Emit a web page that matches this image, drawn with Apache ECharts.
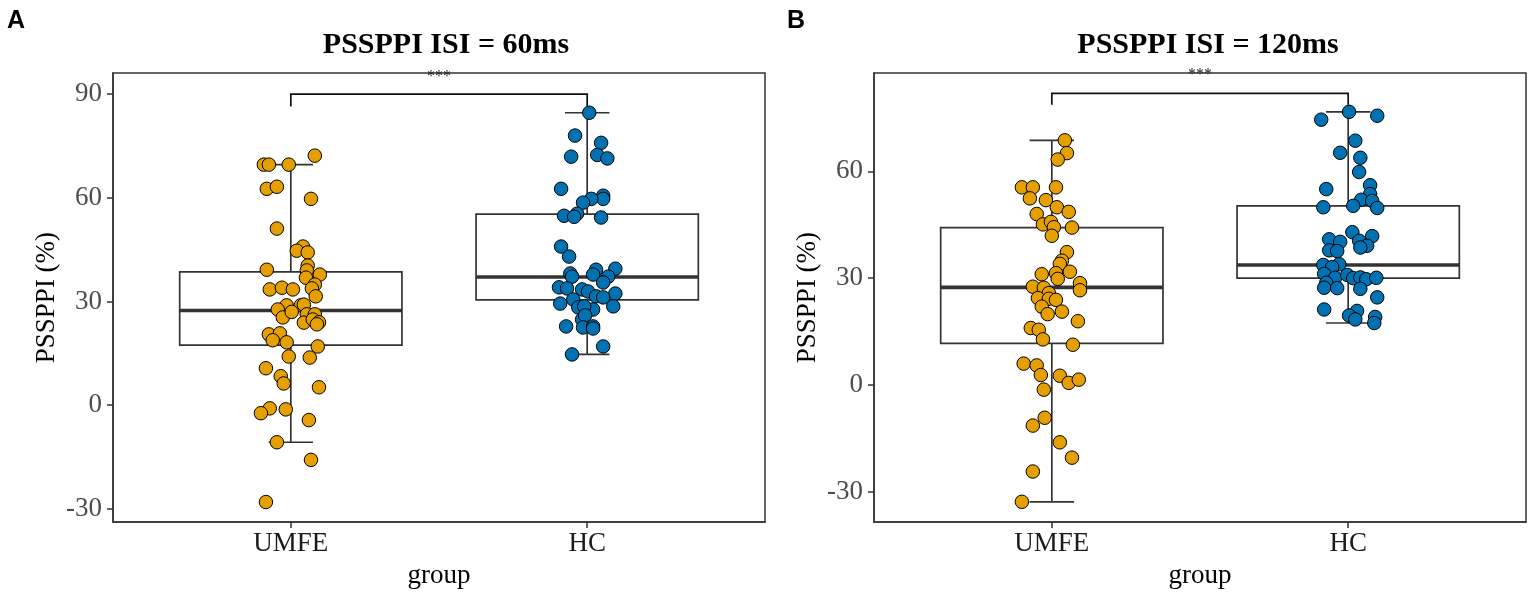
<!DOCTYPE html>
<html><head><meta charset="utf-8">
<script src="https://cdn.jsdelivr.net/npm/echarts@6/dist/echarts.min.js"></script>
<style>html,body{margin:0;padding:0;background:#fff}#c{width:1535px;height:594px}</style>
</head><body><div id="c"></div><script>
// ---------- data ----------
const categories = ['UMFE', 'HC'];
const panelTitles = ['PSSPPI ISI = 60ms', 'PSSPPI ISI = 120ms'];
const panelLabels = ['A', 'B'];
const yTicksA = [-30, 0, 30, 60, 90];
const yTicksB = [-30, 0, 30, 60];
const yRangeA = [-33.8, 96.1];
const yRangeB = [-38.5, 87.6];
const sigLabel = '***';

// Panel A (ISI = 60ms)
const umfeA = [72.2,69.6,69.6,69.6,62.6,63.2,59.7,51.1,45.9,44.7,44.2,40.4,39.0,39.2,37.8,36.9,34.9,33.8,33.5,34.0,33.5,31.5,28.9,27.7,28.9,29.1,25.4,26.3,26.3,23.9,24.8,24.0,23.4,20.5,20.8,18.8,18.2,17.0,14.1,13.8,10.7,8.4,6.3,5.2,-0.9,-2.3,-1.2,-4.3,-10.7,-15.8,-28.0,27.0];
const umfeAJitter = [0.081,-0.091,-0.074,-0.007,-0.081,-0.047,0.068,-0.047,0.041,0.020,0.057,0.057,0.054,-0.081,0.098,0.051,0.081,0.071,-0.071,-0.030,0.007,0.084,-0.014,-0.044,0.034,0.044,-0.027,0.054,0.081,0.044,0.074,0.095,0.088,-0.074,-0.037,-0.061,-0.014,0.091,-0.007,0.064,-0.084,-0.034,-0.024,0.095,-0.071,-0.101,-0.017,0.061,-0.047,0.068,-0.084,0.003];
const hcA = [84.6,78.0,75.9,71.9,72.4,71.4,62.6,60.6,59.7,59.7,58.6,55.4,54.8,54.5,54.3,45.9,43.0,38.1,37.2,39.2,37.8,39.5,37.2,35.5,34.1,33.8,33.5,32.9,32.3,31.5,31.2,30.6,29.4,28.3,27.7,28.6,28.6,24.8,26.0,22.8,22.5,22.8,22.2,17.0,14.7];
const hcAJitter = [0.007,-0.041,0.047,-0.054,0.034,0.068,-0.088,0.054,0.054,0.014,-0.014,-0.034,-0.078,-0.044,0.047,-0.088,-0.061,-0.057,-0.051,0.030,0.020,0.095,0.071,0.054,-0.095,-0.068,-0.017,0.003,0.095,0.030,0.054,-0.047,-0.091,-0.030,0.020,0.088,-0.010,-0.017,-0.007,-0.071,-0.014,0.020,0.020,0.054,-0.051];
// box stats: [lower whisker, Q1, median, Q3, upper whisker]
const boxUmfeA = [-10.7, 17.4, 27.4, 38.6, 69.6];
const boxHcA = [14.7, 30.5, 37.1, 55.3, 84.6];
// bracket: [top, drop end, label y]
const bracketA = [90.0, 86.4, 94.9];

// Panel B (ISI = 120ms)
const umfeB = [68.7,65.1,63.3,55.5,55.5,55.5,52.4,51.9,49.9,48.6,48.0,45.1,45.8,44.3,44.2,41.9,37.3,34.9,34.0,31.1,31.4,29.8,31.8,28.6,26.6,27.6,27.3,25.8,24.4,24.2,23.9,22.0,20.6,19.9,17.9,16.0,15.5,12.8,11.3,6.0,5.5,2.8,2.6,0.6,1.5,-1.3,-9.2,-11.4,-16.1,-20.4,-24.3,-32.8];
const umfeBJitter = [0.044,0.051,0.020,-0.101,-0.064,0.014,-0.074,-0.020,0.017,0.057,-0.051,-0.030,-0.003,0.007,0.068,0.000,0.051,0.034,0.027,-0.034,0.014,0.020,0.061,0.095,0.095,-0.064,-0.027,-0.010,-0.047,-0.010,0.014,-0.034,0.034,-0.014,0.088,-0.071,-0.044,-0.030,0.071,-0.095,-0.051,-0.037,0.027,0.057,0.091,-0.027,-0.024,-0.064,0.027,0.068,-0.064,-0.101];
const hcB = [76.7,74.5,75.6,68.6,65.2,63.8,59.8,56.1,55.0,53.6,52.0,51.7,50.3,49.9,49.7,42.9,41.8,40.9,40.2,40.5,39.1,38.6,37.8,37.6,33.7,33.9,33.1,31.2,30.1,30.9,30.0,30.2,29.7,30.1,28.7,27.3,27.2,27.0,24.6,21.2,20.8,19.5,18.4,19.1,17.4];
const hcBJitter = [0.003,-0.091,0.098,0.024,-0.027,0.041,0.037,0.074,-0.074,0.074,0.044,0.081,0.017,-0.084,0.098,0.014,0.081,-0.064,-0.027,0.037,0.064,0.041,-0.064,-0.037,-0.084,-0.030,-0.054,-0.081,-0.044,-0.003,0.017,0.041,0.061,0.095,-0.074,-0.081,-0.037,0.041,0.098,-0.081,0.030,0.003,0.024,0.091,0.088];
const boxUmfeB = [-32.8, 11.7, 27.4, 44.2, 68.7];
const boxHcB = [17.4, 30.0, 33.7, 50.3, 76.7];
const bracketB = [81.9, 78.7, 87.1];

// ---------- chart ----------
const ORANGE = '#E69F00', BLUE = '#0072B2', INK = '#333333';
const SERIF = 'Liberation Serif';

function renderBox(params, api) {
  const x = api.value(0);
  const lo = api.value(1), q1 = api.value(2), med = api.value(3), q3 = api.value(4), hi = api.value(5);
  const bw = 0.375, cw = 0.075;
  const c = (a, b) => api.coord([a, b]);
  const ls = { stroke: INK, lineWidth: 1.7, fill: null };
  const ln = (p1, p2, st) => ({ type: 'line', shape: { x1: p1[0], y1: p1[1], x2: p2[0], y2: p2[1] }, style: st || ls });
  const tl = c(x - bw, q3), br = c(x + bw, q1);
  return { type: 'group', children: [
    ln(c(x, q3), c(x, hi)),
    ln(c(x, q1), c(x, lo)),
    ln(c(x - cw, hi), c(x + cw, hi)),
    ln(c(x - cw, lo), c(x + cw, lo)),
    { type: 'rect', shape: { x: tl[0], y: tl[1], width: br[0] - tl[0], height: br[1] - tl[1] },
      style: { fill: 'rgba(255,255,255,0)', stroke: INK, lineWidth: 1.7 } },
    ln(c(x - bw, med), c(x + bw, med), { stroke: INK, lineWidth: 3.6 })
  ]};
}

function renderBracket(params, api) {
  const x1 = api.value(0), x2 = api.value(1), top = api.value(2), drop = api.value(3), ly = api.value(4);
  const c = (a, b) => api.coord([a, b]);
  const tp = c((x1 + x2) / 2, ly);
  return { type: 'group', children: [
    { type: 'polyline', shape: { points: [c(x1, drop), c(x1, top), c(x2, top), c(x2, drop)] },
      style: { stroke: '#111', lineWidth: 1.7, fill: null } },
    { type: 'text', x: tp[0], y: tp[1],
      style: { text: sigLabel, font: '16px "' + SERIF + '"', fill: '#222', align: 'center', verticalAlign: 'middle' } }
  ]};
}

const grids = [
  { left: 113, right: 770, top: 73, bottom: 71 },
  { left: 874, right: 9, top: 73, bottom: 71 }
];

function xAxisFor(i) {
  return {
    gridIndex: i, type: 'value', min: 0.4, max: 2.6,
    name: 'group', nameLocation: 'middle', nameGap: 36,
    nameTextStyle: { fontFamily: SERIF, fontSize: 27, color: '#000' },
    axisLine: { show: true, onZero: false, lineStyle: { color: INK, width: 1.5 } },
    axisTick: { show: true, length: 6, customValues: [1, 2], lineStyle: { color: INK, width: 1.5 } },
    axisLabel: { customValues: [1, 2], formatter: v => categories[Math.round(v) - 1], margin: 8,
      fontFamily: SERIF, fontSize: 27, color: '#1a1a1a' },
    splitLine: { show: false }
  };
}
function yAxisFor(i, range, ticks) {
  return {
    gridIndex: i, type: 'value', min: range[0], max: range[1],
    name: 'PSSPPI (%)', nameLocation: 'middle', nameGap: 53, nameRotate: 90,
    nameTextStyle: { fontFamily: SERIF, fontSize: 27, color: '#000' },
    axisLine: { show: true, onZero: false, lineStyle: { color: INK, width: 1.5 } },
    axisTick: { show: true, length: 6, customValues: ticks, lineStyle: { color: INK, width: 1.5 } },
    axisLabel: { customValues: ticks, margin: 11, fontFamily: SERIF, fontSize: 27, color: '#4D4D4D' },
    splitLine: { show: false }
  };
}

function pts(vals, jit, center) { return vals.map((v, i) => [center + jit[i], v]); }
function scatterSeries(i, data, color) {
  return { type: 'scatter', xAxisIndex: i, yAxisIndex: i, data: data, symbolSize: 13.5, z: 5,
    itemStyle: { color: color, borderColor: '#000', borderWidth: 1, opacity: 1 }, silent: true };
}
function boxSeries(i, boxes) {
  return { type: 'custom', xAxisIndex: i, yAxisIndex: i, renderItem: renderBox, z: 3, silent: true,
    data: boxes.map((b, k) => [k + 1].concat(b)), encode: { x: 0, y: [1, 2, 3, 4, 5] } };
}
function bracketSeries(i, br) {
  return { type: 'custom', xAxisIndex: i, yAxisIndex: i, renderItem: renderBracket, z: 4, silent: true, clip: false,
    data: [[1, 2].concat(br)], encode: { x: [0, 1], y: [2, 3] } };
}

const chart = echarts.init(document.getElementById('c'), null, { renderer: 'canvas' });
chart.setOption({
  animation: false,
  backgroundColor: '#fff',
  title: [
    { text: panelTitles[0], left: 446, top: 30, textAlign: 'center', padding: 0,
      textStyle: { fontFamily: SERIF, fontWeight: 'bold', fontSize: 30, color: '#000' } },
    { text: panelTitles[1], left: 1208, top: 30, textAlign: 'center', padding: 0,
      textStyle: { fontFamily: SERIF, fontWeight: 'bold', fontSize: 30, color: '#000' } },
    { text: panelLabels[0], left: 7, top: 9, padding: 0,
      textStyle: { fontFamily: 'Liberation Sans', fontWeight: 'bold', fontSize: 25, color: '#000' } },
    { text: panelLabels[1], left: 787, top: 9, padding: 0,
      textStyle: { fontFamily: 'Liberation Sans', fontWeight: 'bold', fontSize: 25, color: '#000' } }
  ],
  grid: grids.map(g => Object.assign({ show: true, borderColor: INK, borderWidth: 1.5, backgroundColor: '#fff' }, g)),
  xAxis: [xAxisFor(0), xAxisFor(1)],
  yAxis: [yAxisFor(0, yRangeA, yTicksA), yAxisFor(1, yRangeB, yTicksB)],
  series: [
    boxSeries(0, [boxUmfeA, boxHcA]),
    scatterSeries(0, pts(umfeA, umfeAJitter, 1), ORANGE),
    scatterSeries(0, pts(hcA, hcAJitter, 2), BLUE),
    bracketSeries(0, bracketA),
    boxSeries(1, [boxUmfeB, boxHcB]),
    scatterSeries(1, pts(umfeB, umfeBJitter, 1), ORANGE),
    scatterSeries(1, pts(hcB, hcBJitter, 2), BLUE),
    bracketSeries(1, bracketB)
  ]
});
</script></body></html>
